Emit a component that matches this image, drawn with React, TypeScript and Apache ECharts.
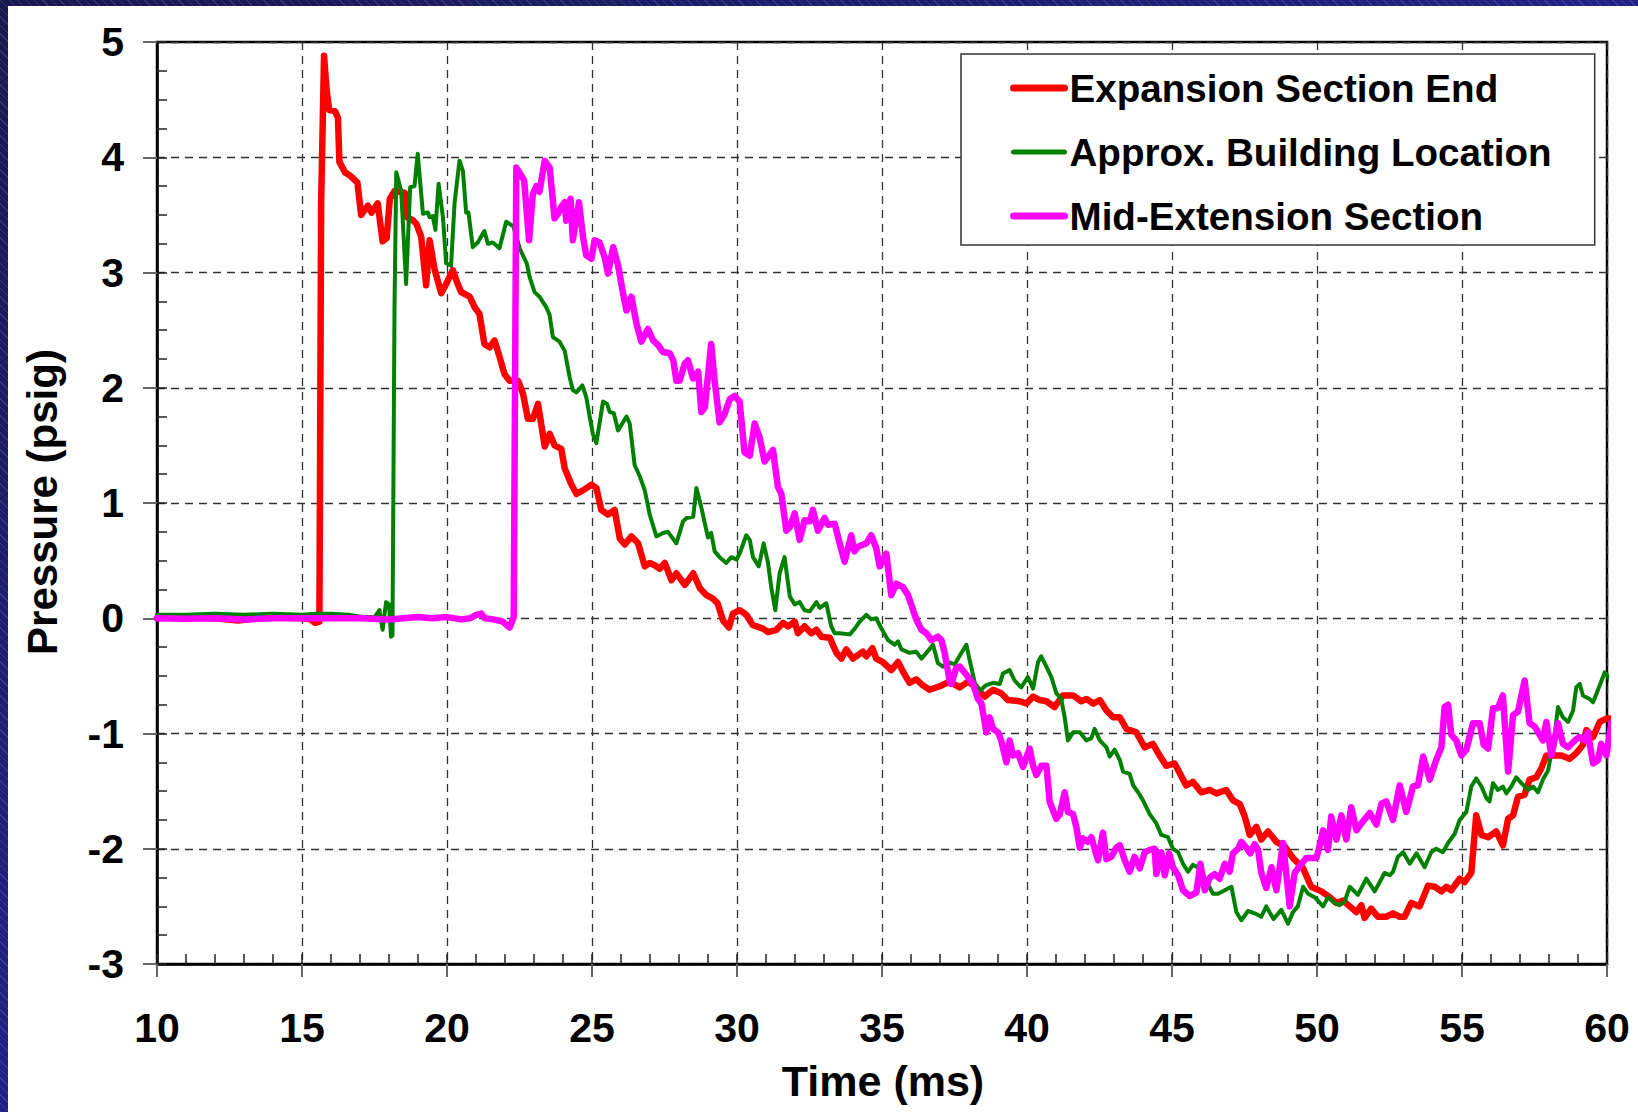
import React, { useEffect, useRef } from 'react';
import * as echarts from 'echarts';

const FONT = '"Liberation Sans", Arial, Helvetica, sans-serif';

const xTicks = { min: 10, max: 60, major: 5, minor: 1 };
const yTicks = { min: -3, max: 5, major: 1, minor: 0.25 };

const seriesNames = ['Expansion Section End', 'Approx. Building Location', 'Mid-Extension Section'];

const expansionEnd: [number, number][] = [
  [10.0, 0.0], [11.0, 0.01], [12.0, 0.0], [12.8, -0.02], [13.5, 0.0], [14.0, 0.01], [15.0, 0.0], [15.3, -0.01], [15.45, -0.04], [15.6, -0.03],
  [15.66, 3.6], [15.76, 4.88], [15.85, 4.58], [15.94, 4.41], [16.14, 4.4], [16.24, 4.34], [16.29, 3.96], [16.48, 3.87], [16.66, 3.84],
  [16.91, 3.78], [17.04, 3.5], [17.27, 3.58], [17.4, 3.52], [17.61, 3.6], [17.78, 3.27], [17.92, 3.3], [18.03, 3.64], [18.2, 3.71],
  [18.4, 3.7], [18.55, 3.69], [18.62, 3.48], [18.84, 3.45], [18.95, 3.42], [19.11, 3.31], [19.28, 2.89], [19.4, 3.28], [19.57, 3.03],
  [19.8, 2.82], [19.97, 2.9], [20.2, 3.02], [20.37, 2.9], [20.49, 2.83], [20.78, 2.79], [20.95, 2.7], [21.12, 2.64], [21.29, 2.38],
  [21.47, 2.35], [21.64, 2.41], [21.81, 2.27], [21.98, 2.12], [22.16, 2.06], [22.45, 2.06], [22.62, 1.95], [22.79, 1.73], [22.96, 1.73],
  [23.14, 1.86], [23.37, 1.49], [23.54, 1.6], [23.71, 1.5], [23.94, 1.47], [24.06, 1.3], [24.29, 1.16], [24.46, 1.08], [24.69, 1.11],
  [24.98, 1.16], [25.15, 1.13], [25.32, 0.94], [25.55, 0.9], [25.78, 0.94], [25.96, 0.69], [26.13, 0.64], [26.36, 0.71], [26.59, 0.65],
  [26.82, 0.45], [26.99, 0.48], [27.16, 0.46], [27.34, 0.43], [27.51, 0.48], [27.74, 0.33], [27.91, 0.39], [28.2, 0.29], [28.49, 0.39],
  [28.72, 0.26], [28.95, 0.2], [29.17, 0.17], [29.33, 0.13], [29.52, -0.02], [29.72, -0.08], [29.86, 0.04], [30.09, 0.07], [30.32, 0.03],
  [30.55, -0.06], [30.9, -0.09], [31.07, -0.12], [31.36, -0.1], [31.59, -0.04], [31.76, -0.07], [31.99, -0.03], [32.1, -0.13], [32.33, -0.07],
  [32.56, -0.13], [32.74, -0.1], [32.91, -0.16], [33.2, -0.17], [33.43, -0.3], [33.6, -0.35], [33.77, -0.27], [34.0, -0.35], [34.34, -0.29],
  [34.46, -0.33], [34.67, -0.26], [34.8, -0.35], [35.03, -0.38], [35.32, -0.45], [35.55, -0.38], [35.72, -0.46], [35.95, -0.56], [36.18, -0.53],
  [36.4, -0.58], [36.64, -0.62], [36.99, -0.59], [37.33, -0.55], [37.68, -0.6], [37.97, -0.55], [38.25, -0.6], [38.54, -0.68], [38.83, -0.62],
  [39.11, -0.65], [39.34, -0.71], [39.75, -0.72], [39.98, -0.74], [40.21, -0.68], [40.44, -0.71], [40.67, -0.72], [40.95, -0.77], [41.24, -0.67],
  [41.59, -0.67], [41.87, -0.72], [42.05, -0.7], [42.28, -0.74], [42.51, -0.71], [42.74, -0.8], [42.97, -0.86], [43.2, -0.86], [43.43, -0.96],
  [43.77, -0.99], [44.06, -1.12], [44.34, -1.09], [44.57, -1.19], [44.8, -1.28], [45.09, -1.26], [45.49, -1.45], [45.72, -1.42], [46.01, -1.51],
  [46.3, -1.49], [46.53, -1.52], [46.87, -1.49], [47.1, -1.58], [47.33, -1.61], [47.51, -1.72], [47.68, -1.88], [47.91, -1.81], [48.08, -1.92],
  [48.31, -1.85], [48.6, -1.94], [48.89, -1.98], [49.17, -2.08], [49.52, -2.17], [49.8, -2.33], [50.15, -2.37], [50.44, -2.42], [50.67, -2.47],
  [50.9, -2.45], [51.13, -2.5], [51.36, -2.55], [51.53, -2.49], [51.64, -2.6], [51.87, -2.52], [52.1, -2.59], [52.39, -2.59], [52.62, -2.56],
  [52.85, -2.59], [53.02, -2.59], [53.25, -2.47], [53.54, -2.5], [53.83, -2.32], [54.06, -2.33], [54.29, -2.37], [54.46, -2.33], [54.63, -2.36],
  [54.92, -2.26], [55.09, -2.29], [55.32, -2.21], [55.49, -1.71], [55.67, -1.88], [55.9, -1.9], [56.18, -1.85], [56.41, -1.97], [56.59, -1.74],
  [56.76, -1.71], [56.93, -1.55], [57.16, -1.53], [57.33, -1.4], [57.56, -1.38], [57.74, -1.3], [57.91, -1.19], [58.14, -1.19], [58.43, -1.19],
  [58.71, -1.22], [58.94, -1.17], [59.17, -1.1], [59.29, -0.97], [59.52, -1.03], [59.75, -0.9], [59.98, -0.87], [60.2, -0.87],
];

const buildingLocation: [number, number][] = [
  [10.0, 0.03], [11.0, 0.03], [12.0, 0.04], [13.0, 0.03], [14.0, 0.04], [15.0, 0.03], [15.5, 0.04], [16.0, 0.04], [16.6, 0.03], [17.1, 0.01],
  [17.5, 0.01], [17.67, 0.07], [17.78, -0.1], [17.9, 0.14], [18.0, 0.12], [18.07, -0.16], [18.12, -0.15], [18.19, 2.7], [18.25, 3.87],
  [18.42, 3.71], [18.59, 2.9], [18.73, 3.74], [18.88, 3.75], [18.99, 4.03], [19.17, 3.51], [19.34, 3.52], [19.4, 3.48], [19.51, 3.49],
  [19.6, 3.37], [19.71, 3.77], [19.86, 3.48], [19.97, 3.08], [20.14, 3.06], [20.26, 3.6], [20.43, 3.97], [20.55, 3.88], [20.66, 3.52],
  [20.74, 3.52], [20.89, 3.22], [21.06, 3.26], [21.29, 3.36], [21.41, 3.25], [21.58, 3.26], [21.81, 3.21], [22.04, 3.44], [22.29, 3.4],
  [22.52, 3.2], [22.75, 3.08], [22.85, 2.96], [23.02, 2.83], [23.19, 2.79], [23.42, 2.7], [23.54, 2.63], [23.65, 2.44], [23.88, 2.4],
  [24.06, 2.32], [24.23, 2.09], [24.34, 1.98], [24.46, 1.96], [24.67, 2.02], [24.8, 1.92], [24.92, 1.75], [25.03, 1.6], [25.15, 1.52],
  [25.38, 1.88], [25.52, 1.86], [25.61, 1.79], [25.75, 1.78], [25.9, 1.63], [26.19, 1.75], [26.3, 1.69], [26.47, 1.33], [26.65, 1.23],
  [26.82, 1.11], [26.99, 0.9], [27.22, 0.71], [27.45, 0.74], [27.62, 0.75], [27.91, 0.65], [28.14, 0.84], [28.26, 0.87], [28.49, 0.88],
  [28.6, 1.13], [28.77, 0.96], [29.0, 0.7], [29.11, 0.74], [29.23, 0.58], [29.4, 0.53], [29.63, 0.48], [29.8, 0.53], [29.98, 0.51],
  [30.09, 0.56], [30.32, 0.72], [30.44, 0.68], [30.55, 0.53], [30.75, 0.45], [30.92, 0.65], [31.07, 0.48], [31.18, 0.27], [31.32, 0.07],
  [31.47, 0.39], [31.64, 0.53], [31.82, 0.19], [31.99, 0.12], [32.16, 0.14], [32.33, 0.07], [32.51, 0.06], [32.74, 0.14], [32.85, 0.09],
  [33.08, 0.13], [33.25, -0.07], [33.37, -0.13], [33.54, -0.13], [33.89, -0.14], [34.06, -0.09], [34.23, -0.03], [34.46, 0.03], [34.63, -0.01],
  [34.8, 0.0], [34.98, -0.09], [35.21, -0.19], [35.44, -0.23], [35.55, -0.2], [35.67, -0.27], [35.95, -0.3], [36.18, -0.29], [36.36, -0.35],
  [36.53, -0.3], [36.76, -0.23], [36.93, -0.39], [37.1, -0.42], [37.28, -0.38], [37.51, -0.4], [37.74, -0.3], [37.91, -0.23], [38.02, -0.36],
  [38.2, -0.56], [38.37, -0.63], [38.6, -0.58], [38.83, -0.56], [39.06, -0.57], [39.17, -0.48], [39.4, -0.45], [39.57, -0.54], [39.8, -0.6],
  [40.03, -0.51], [40.21, -0.61], [40.38, -0.38], [40.49, -0.33], [40.67, -0.42], [40.84, -0.51], [41.01, -0.65], [41.18, -0.7], [41.3, -0.86],
  [41.41, -1.06], [41.59, -0.99], [41.82, -0.99], [42.05, -1.06], [42.22, -1.04], [42.33, -0.96], [42.51, -1.06], [42.74, -1.12], [42.85, -1.2],
  [43.02, -1.14], [43.2, -1.23], [43.31, -1.33], [43.54, -1.35], [43.66, -1.45], [43.83, -1.51], [44.0, -1.58], [44.23, -1.7], [44.46, -1.78],
  [44.63, -1.88], [44.86, -1.9], [45.03, -2.0], [45.21, -2.03], [45.38, -2.13], [45.55, -2.2], [45.72, -2.14], [45.95, -2.17], [46.18, -2.28],
  [46.41, -2.39], [46.59, -2.39], [46.82, -2.36], [47.05, -2.33], [47.22, -2.55], [47.39, -2.62], [47.62, -2.54], [47.85, -2.56], [48.08, -2.59],
  [48.25, -2.5], [48.5, -2.61], [48.77, -2.53], [49.0, -2.65], [49.17, -2.55], [49.34, -2.5], [49.52, -2.33], [49.69, -2.39], [49.92, -2.42],
  [50.21, -2.5], [50.38, -2.42], [50.61, -2.47], [50.78, -2.49], [50.95, -2.46], [51.13, -2.33], [51.41, -2.4], [51.7, -2.26], [51.99, -2.37],
  [52.33, -2.21], [52.51, -2.23], [52.62, -2.2], [52.79, -2.07], [52.97, -2.03], [53.2, -2.13], [53.43, -2.04], [53.71, -2.16], [53.94, -2.03],
  [54.11, -2.0], [54.34, -2.03], [54.52, -1.95], [54.75, -1.87], [54.92, -1.75], [55.15, -1.68], [55.32, -1.46], [55.49, -1.39], [55.67, -1.46],
  [55.84, -1.56], [55.95, -1.59], [56.07, -1.43], [56.24, -1.49], [56.41, -1.46], [56.53, -1.52], [56.7, -1.46], [56.87, -1.38], [57.05, -1.43],
  [57.28, -1.49], [57.45, -1.46], [57.62, -1.51], [57.79, -1.4], [57.97, -1.32], [58.08, -1.17], [58.2, -1.0], [58.31, -0.77], [58.48, -0.86],
  [58.66, -0.9], [58.83, -0.8], [58.94, -0.6], [59.06, -0.57], [59.17, -0.67], [59.4, -0.7], [59.52, -0.73], [59.69, -0.62], [59.92, -0.47],
  [60.09, -0.52], [60.2, -0.64],
];

const midExtension: [number, number][] = [
  [10.0, 0.0], [11.0, -0.005], [12.0, 0.0], [13.0, -0.01], [14.0, 0.0], [15.0, 0.0], [16.0, 0.0], [17.0, 0.0], [18.0, -0.01], [18.5, 0.0],
  [19.0, 0.01], [19.5, 0.0], [20.0, 0.01], [20.5, -0.01], [20.8, 0.0], [21.01, 0.03], [21.18, 0.04], [21.3, 0.0], [21.6, -0.01], [21.93, -0.03],
  [22.16, -0.08], [22.3, 0.01], [22.39, 3.91], [22.56, 3.84], [22.66, 3.8], [22.83, 3.28], [22.96, 3.68], [23.08, 3.75], [23.19, 3.7],
  [23.37, 3.97], [23.54, 3.91], [23.71, 3.47], [23.83, 3.51], [23.94, 3.57], [24.06, 3.61], [24.11, 3.45], [24.26, 3.64], [24.34, 3.28],
  [24.55, 3.61], [24.69, 3.31], [24.8, 3.15], [24.98, 3.12], [25.09, 3.28], [25.26, 3.26], [25.44, 3.13], [25.55, 2.99], [25.73, 3.22],
  [25.9, 3.06], [26.07, 2.82], [26.19, 2.67], [26.36, 2.79], [26.53, 2.56], [26.7, 2.4], [26.93, 2.51], [27.11, 2.41], [27.28, 2.37],
  [27.45, 2.31], [27.68, 2.3], [27.8, 2.24], [27.91, 2.06], [28.02, 2.06], [28.2, 2.21], [28.31, 2.24], [28.48, 2.08], [28.66, 2.14],
  [28.77, 1.79], [28.89, 1.83], [29.11, 2.38], [29.23, 2.06], [29.4, 1.7], [29.57, 1.77], [29.75, 1.9], [29.92, 1.93], [30.09, 1.88],
  [30.26, 1.44], [30.44, 1.41], [30.61, 1.69], [30.78, 1.57], [30.95, 1.36], [31.07, 1.4], [31.24, 1.46], [31.41, 1.14], [31.53, 1.08],
  [31.7, 0.76], [31.82, 0.79], [31.99, 0.91], [32.16, 0.68], [32.33, 0.85], [32.51, 0.84], [32.62, 0.94], [32.79, 0.76], [33.02, 0.87],
  [33.14, 0.81], [33.37, 0.82], [33.54, 0.65], [33.71, 0.49], [33.94, 0.72], [34.05, 0.58], [34.17, 0.62], [34.46, 0.65], [34.63, 0.72],
  [34.8, 0.61], [34.92, 0.45], [35.15, 0.56], [35.32, 0.2], [35.49, 0.3], [35.72, 0.27], [35.9, 0.2], [36.18, -0.01], [36.36, -0.1],
  [36.53, -0.13], [36.7, -0.19], [36.93, -0.16], [37.05, -0.19], [37.16, -0.3], [37.33, -0.54], [37.39, -0.57], [37.56, -0.43], [37.68, -0.42],
  [37.91, -0.49], [38.14, -0.57], [38.31, -0.7], [38.43, -0.74], [38.6, -0.99], [38.71, -0.86], [38.83, -0.96], [39.0, -0.99], [39.11, -1.06],
  [39.29, -1.25], [39.4, -1.06], [39.52, -1.19], [39.69, -1.17], [39.86, -1.29], [40.09, -1.13], [40.21, -1.28], [40.32, -1.36], [40.49, -1.28],
  [40.67, -1.28], [40.78, -1.59], [41.01, -1.74], [41.13, -1.7], [41.3, -1.51], [41.41, -1.68], [41.59, -1.7], [41.7, -1.81], [41.82, -1.99],
  [41.93, -1.91], [42.1, -1.94], [42.22, -1.9], [42.33, -2.0], [42.45, -2.1], [42.62, -1.86], [42.74, -2.09], [42.91, -2.07], [43.08, -1.99],
  [43.2, -1.97], [43.37, -2.1], [43.54, -2.2], [43.71, -2.07], [43.89, -2.17], [44.06, -2.03], [44.23, -2.01], [44.4, -2.0], [44.46, -2.22],
  [44.63, -2.03], [44.75, -2.23], [44.9, -2.04], [45.03, -2.16], [45.21, -2.23], [45.38, -2.36], [45.61, -2.41], [45.84, -2.38], [45.98, -2.13],
  [46.13, -2.36], [46.3, -2.25], [46.47, -2.22], [46.64, -2.26], [46.82, -2.13], [46.99, -2.2], [47.1, -2.04], [47.28, -2.0], [47.39, -1.94],
  [47.56, -1.99], [47.7, -2.04], [47.85, -1.96], [47.97, -2.01], [48.08, -2.21], [48.25, -2.34], [48.43, -2.16], [48.6, -2.36], [48.83, -1.95],
  [49.06, -2.5], [49.23, -2.21], [49.4, -2.15], [49.63, -2.08], [49.8, -2.08], [49.98, -2.08], [50.09, -1.98], [50.21, -1.84], [50.38, -2.01],
  [50.49, -1.72], [50.67, -1.92], [50.84, -1.71], [51.01, -1.92], [51.18, -1.64], [51.36, -1.84], [51.53, -1.78], [51.82, -1.69], [52.05, -1.79],
  [52.22, -1.61], [52.39, -1.59], [52.62, -1.75], [52.85, -1.45], [53.08, -1.68], [53.31, -1.46], [53.48, -1.45], [53.66, -1.2], [53.89, -1.4],
  [54.11, -1.23], [54.29, -1.12], [54.4, -0.77], [54.52, -0.75], [54.63, -1.01], [54.8, -1.06], [54.98, -1.19], [55.15, -1.14], [55.38, -0.91],
  [55.61, -0.91], [55.75, -1.1], [55.9, -1.13], [56.07, -0.78], [56.24, -0.78], [56.41, -0.67], [56.59, -1.33], [56.76, -0.84], [56.93, -0.81],
  [57.16, -0.54], [57.33, -0.91], [57.51, -0.94], [57.79, -1.06], [57.91, -0.9], [58.08, -1.19], [58.31, -0.91], [58.48, -1.09], [58.66, -1.12],
  [58.89, -1.06], [59.06, -1.03], [59.23, -1.06], [59.34, -0.99], [59.52, -1.26], [59.69, -1.23], [59.8, -1.09], [59.98, -1.19], [60.15, -0.91],
];

const seriesColors = ['#ff0000', '#008000', '#ff00ff'];
const seriesWidths = [6.5, 4, 6.5];
const legendWidths = [7, 5, 7];

export default function App() {
  const ref = useRef<HTMLDivElement>(null);

  useEffect(() => {
    if (!ref.current) return;
    const chart = echarts.init(ref.current, null, { renderer: 'svg' });
    const labelStyle = { fontSize: 41, fontWeight: 'bold' as const, fontFamily: FONT, color: '#000' };
    const dataSets = [expansionEnd, buildingLocation, midExtension];

    chart.setOption({
      animation: false,
      backgroundColor: '#ffffff',
      grid: {
        left: 149, top: 36, width: 1450, height: 922,
        show: true, borderColor: '#000', borderWidth: 2.5, backgroundColor: 'transparent',
        containLabel: false,
      },
      xAxis: [
        {
          type: 'value', min: xTicks.min, max: xTicks.max, interval: xTicks.major, position: 'bottom',
          axisLine: { show: true, onZero: false, lineStyle: { color: '#000', width: 2.5 } },
          axisTick: { show: true, inside: false, length: 13, lineStyle: { color: '#666', width: 2 } },
          axisLabel: { ...labelStyle, margin: 43 },
          splitLine: { show: true, lineStyle: { color: '#333', width: 1.3, type: [8, 6] } },
        },
        {
          type: 'value', min: xTicks.min, max: xTicks.max, interval: xTicks.minor, position: 'bottom',
          axisLine: { show: false, onZero: false },
          axisTick: { show: true, inside: true, length: 10, lineStyle: { color: '#222', width: 1.5 } },
          axisLabel: { show: false },
          splitLine: { show: false },
        },
      ],
      yAxis: [
        {
          type: 'value', min: yTicks.min, max: yTicks.max, interval: yTicks.major, position: 'left',
          axisLine: { show: true, onZero: false, lineStyle: { color: '#000', width: 2.5 } },
          axisTick: { show: true, inside: false, length: 14, lineStyle: { color: '#666', width: 2 } },
          axisLabel: { ...labelStyle, margin: 33 },
          splitLine: { show: true, lineStyle: { color: '#333', width: 1.3, type: [8, 6] } },
        },
        {
          type: 'value', min: yTicks.min, max: yTicks.max, interval: yTicks.minor, position: 'left',
          axisLine: { show: false, onZero: false },
          axisTick: { show: true, inside: true, length: 10, lineStyle: { color: '#222', width: 1.5 } },
          axisLabel: { show: false },
          splitLine: { show: false },
        },
      ],
      legend: {
        orient: 'vertical', left: 953, top: 48,
        padding: [14, 43, 9, 49], itemGap: 24, itemWidth: 51, itemHeight: 14,
        backgroundColor: '#fff', borderColor: '#333', borderWidth: 1.5, borderRadius: 0,
        itemStyle: { opacity: 0 },
        textStyle: { fontSize: 38.6, fontWeight: 'bold', fontFamily: FONT, color: '#000', lineHeight: 40 },
        data: seriesNames.map((name, i) => ({
          name,
          itemStyle: { opacity: 0 },
          lineStyle: { width: legendWidths[i], cap: 'round', color: seriesColors[i] },
        })),
      },
      graphic: [
        {
          type: 'text', x: 875, y: 1075, z: 10,
          style: { text: 'Time (ms)', fontSize: 43, fontWeight: 'bold', fontFamily: FONT, fill: '#000', align: 'center', verticalAlign: 'middle' },
        },
        {
          type: 'text', x: 34, y: 496, rotation: Math.PI / 2, z: 10,
          style: { text: 'Pressure (psig)', fontSize: 42, fontWeight: 'bold', fontFamily: FONT, fill: '#000', align: 'center', verticalAlign: 'middle' },
        },
      ],
      series: seriesNames.map((name, i) => ({
        name, type: 'line', xAxisIndex: 0, yAxisIndex: 0,
        data: dataSets[i], symbol: 'none', showSymbol: false, clip: true,
        lineStyle: { color: seriesColors[i], width: seriesWidths[i], cap: 'round', join: 'round' },
        itemStyle: { color: seriesColors[i] },
        emphasis: { disabled: true },
        z: 2 + i,
      })),
    });
    return () => chart.dispose();
  }, []);

  return (
    <div
      style={{
        position: 'fixed', left: 0, top: 0, width: 1638, height: 1112, overflow: 'hidden',
        background:
          'repeating-linear-gradient(45deg, rgba(150,150,255,0.22) 0px, rgba(150,150,255,0.22) 1px, transparent 1px, transparent 6px), linear-gradient(to bottom right, #18184f 0%, #20207a 40%, #2b2bbd 100%)',
      }}
    >
      <div ref={ref} style={{ position: 'absolute', left: 8, top: 6, width: 1630, height: 1106, background: '#fff' }} />
    </div>
  );
}
